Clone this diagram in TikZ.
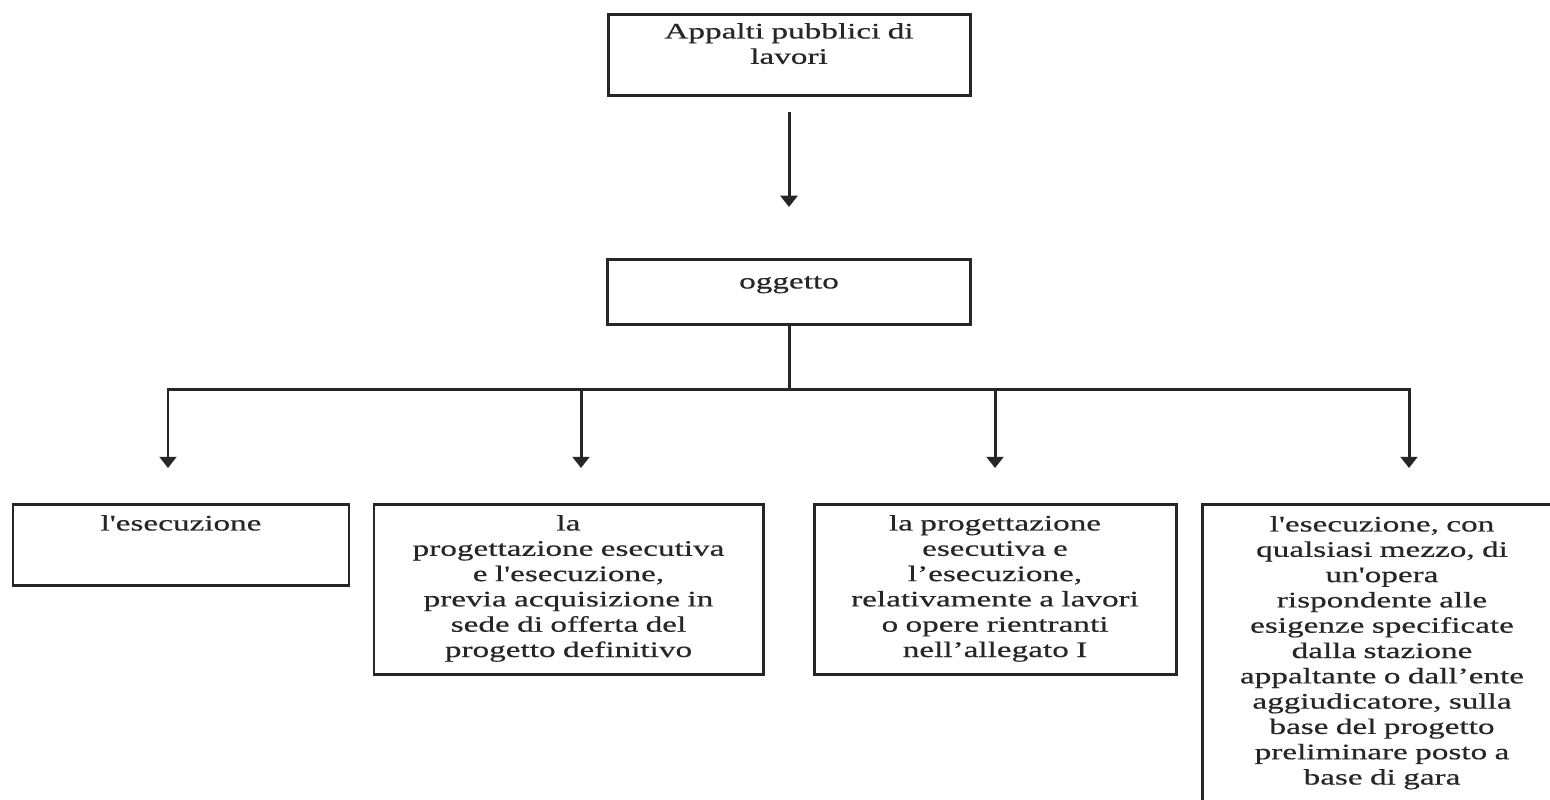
\documentclass[tikz,border=0pt]{standalone}
\usepackage{fontspec}
\newfontfamily\boxfont[FakeStretch=1.5,FakeBold=0.5]{Liberation Serif}
\usetikzlibrary{arrows.meta}
\tikzset{
  box/.style={draw=black!85, line width=0.85pt, inner sep=0pt, anchor=north, align=center,
    text=black!85, font=\boxfont\fontsize{6.3}{7.2}\selectfont},
  link/.style={draw=black!85, line width=0.85pt},
  arr/.style={link, -{Triangle[width=4.8pt,length=3.2pt]}}
}
\begin{document}
\begin{tikzpicture}
	\useasboundingbox (0,0) rectangle (15.5,-8);
	\clip (0,0) rectangle (15.5,-8);
	\fill[white] (0,0) rectangle (15.5,-8);
	% top of the tree
	\node[box, text width=3.62cm, text height=0.24cm, text depth=0.57cm] (appalti) at (7.89,-0.13) {Appalti pubblici di\\lavori};
	\node[box, text width=3.63cm, text height=0.29cm, text depth=0.36cm] (oggetto) at (7.89,-2.58) {oggetto};
	\draw[arr] ([yshift=-0.15cm]appalti.south) -- ([yshift=0.51cm]oggetto.north);
	% the four kinds
	\node[box, text width=3.36cm, text height=0.26cm, text depth=0.55cm] (esec) at (1.81,-5.03) {l'esecuzione};
	\node[box, text width=3.89cm, text height=0.26cm, text depth=1.44cm] (progesec) at (5.685,-5.03) {la\\progettazione esecutiva\\e l'esecuzione,\\previa acquisizione in\\sede di offerta del\\progetto definitivo};
	\node[box, text width=3.62cm, text height=0.26cm, text depth=1.44cm] (allegato) at (9.95,-5.03) {la progettazione\\esecutiva e\\l’esecuzione,\\relativamente a lavori\\o opere rientranti\\nell’allegato I};
	\node[box, text width=3.6cm, text height=0.27cm, text depth=3.5cm] (mezzo) at (13.82,-5.03) {l'esecuzione, con\\qualsiasi mezzo, di\\un'opera\\rispondente alle\\esigenze specificate\\dalla stazione\\appaltante o dall’ente\\aggiudicatore, sulla\\base del progetto\\preliminare posto a\\base di gara};
	% branches
	\draw[link] (oggetto.south) -- ++(0,-0.64) coordinate (fork);
	\coordinate (tip1) at (1.68,-4.68);
	\coordinate (tip2) at (5.81,-4.68);
	\coordinate (tip3) at (9.95,-4.68);
	\coordinate (tip4) at (14.09,-4.68);
	\foreach \t in {tip1,tip2,tip3,tip4}
		\draw[arr] (fork) -| (\t);
\end{tikzpicture}
\end{document}
